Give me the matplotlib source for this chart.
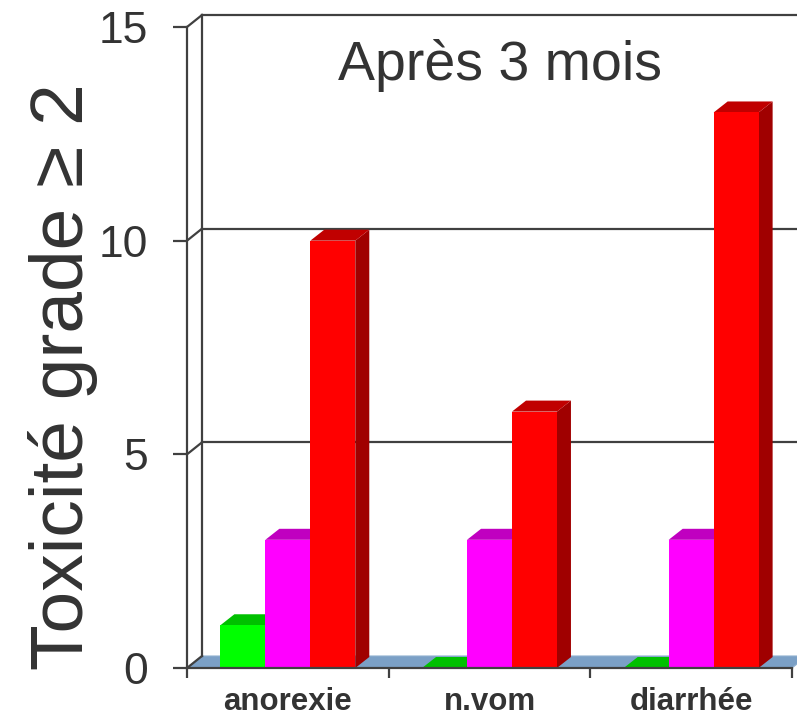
import numpy as np
import matplotlib.pyplot as plt
from matplotlib.patches import Polygon

plt.rcParams['font.family'] = ['Liberation Sans', 'DejaVu Sans']

# Data
categories = ["anorexie", "n.vom", "diarrhée"]
series_green = [1, 0, 0]
series_magenta = [3, 3, 3]
series_red = [10, 6, 13]
y_ticks = [0, 5, 10, 15]

# face colours: front, top, side
palette = [
    ("#00ff00", "#00c000", "#00a000"),
    ("#ff00ff", "#c000c0", "#a000a0"),
    ("#ff0000", "#c00000", "#a00000"),
]
line_col = "#404040"
text_col = "#333333"

W, H = 797, 720
fig = plt.figure(figsize=(W / 100, H / 100), dpi=100)
ax_left, ax_right, ax_bottom, ax_top = 187, 792, 668, 27
ax = fig.add_axes([ax_left / W, 1 - ax_bottom / H,
                   (ax_right - ax_left) / W, (ax_bottom - ax_top) / H])
n = len(categories)
ax.set_xlim(0, n)
ax.set_ylim(0, 15)

# pixel -> data conversion for the fake depth
px_x = n / (ax_right - ax_left)
px_y = 15 / (ax_bottom - ax_top)
wall_dx, wall_dy = 15 * px_x, 12 * px_y
bar_dx, bar_dy = 14 * px_x, 11 * px_y

# floor
floor = Polygon([(0, 0), (n, 0), (n + wall_dx, wall_dy), (wall_dx, wall_dy)],
                closed=True, facecolor="#7ba0c6", edgecolor="#8fb0d0",
                lw=0.8, clip_on=False, zorder=1)
ax.add_patch(floor)

# back wall and gridlines
ax.plot([wall_dx, wall_dx], [wall_dy, 15 + wall_dy], color=line_col, lw=1.6,
        clip_on=False, zorder=2)
for v in y_ticks:
    ax.plot([0, wall_dx], [v, v + wall_dy], color=line_col, lw=1.6,
            clip_on=False, zorder=2)
    if v > 0:
        ax.plot([wall_dx, n + wall_dx], [v + wall_dy, v + wall_dy],
                color=line_col, lw=1.6, clip_on=False, zorder=2)

# bars
bar_w = 0.223
offset = 0.5 - 1.5 * bar_w
series = [series_green, series_magenta, series_red]
z = 3
for i in range(n):
    for j, vals in enumerate(series):
        v = vals[i]
        x0 = i + offset + j * bar_w
        x1 = x0 + bar_w
        front, top, side = palette[j]
        if v > 0:
            ax.add_patch(Polygon([(x1, 0), (x1 + bar_dx, bar_dy),
                                  (x1 + bar_dx, v + bar_dy), (x1, v)],
                                 facecolor=side, edgecolor="none", zorder=z))
        ax.add_patch(Polygon([(x0, v), (x1, v), (x1 + bar_dx, v + bar_dy),
                              (x0 + bar_dx, v + bar_dy)],
                             facecolor=top, edgecolor="none", zorder=z))
        if v > 0:
            ax.add_patch(Polygon([(x0, 0), (x1, 0), (x1, v), (x0, v)],
                                 facecolor=front, edgecolor="none", zorder=z))
        z += 1

# axes styling
for s in ["top", "right"]:
    ax.spines[s].set_visible(False)
for s in ["left", "bottom"]:
    ax.spines[s].set_color(line_col)
    ax.spines[s].set_linewidth(1.6)
    ax.spines[s].set_zorder(50)
ax.set_yticks(y_ticks)
ax.set_yticklabels([str(t) for t in y_ticks])
ax.tick_params(axis="y", direction="out", length=10, width=1.6, color=line_col,
               pad=18, labelsize=32, labelcolor=text_col)
ax.set_xticks(range(n + 1))
ax.set_xticklabels([])
ax.tick_params(axis="x", which="major", direction="out", length=7, width=1.6,
               color=line_col)
ax.set_xticks(np.arange(n) + 0.5, minor=True)
ax.set_xticklabels(categories, minor=True, fontweight="bold")
ax.tick_params(axis="x", which="minor", length=0, pad=14, labelsize=22.5,
               labelcolor=text_col)

fig.text(83 / W, 1 - 377 / H, "Toxicité grade ≥ 2", rotation=90,
         rotation_mode="anchor", ha="center", va="baseline", fontsize=54,
         color=text_col)
fig.text(500 / W, 1 - 80 / H, "Après 3 mois", ha="center", va="baseline",
         fontsize=40, color=text_col)

fig.savefig("out.png", dpi=100)
